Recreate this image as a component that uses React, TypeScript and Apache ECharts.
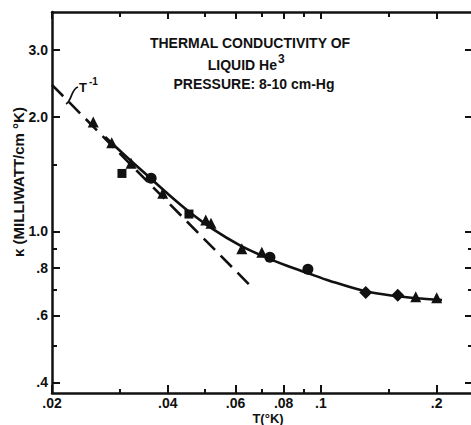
import React, { useEffect, useRef } from "react";
import * as echarts from "echarts";

// Axis ranges (real units, log-log plot)
const xMin = 0.02;
const xMax = 0.25;
const yMin = 0.375;
const yMax = 3.78;

// Tick values / labels
const xMajorTicks = [0.02, 0.04, 0.06, 0.08, 0.1, 0.2];
const xMajorLabels = [".02", ".04", ".06", ".08", ".1", ".2"];
const xMinorTicks = [0.03, 0.05, 0.07, 0.09, 0.15];
const yMajorTicks = [0.4, 0.6, 0.8, 1.0, 2.0, 3.0];
const yMajorLabels = [".4", ".6", ".8", "1.0", "2.0", "3.0"];
const yMinorTicksLeft = [0.5, 0.7, 0.9, 1.5];
const yMinorTicksRight = [0.5, 0.7, 0.9];

// Smooth fitted curve
const curveT = [0.0275, 0.0319, 0.036, 0.0398, 0.0451, 0.0524, 0.0616, 0.0707, 0.0816, 0.0926, 0.1056, 0.131, 0.1586, 0.1767, 0.2064];
const curveK = [1.771, 1.54, 1.381, 1.261, 1.133, 1.013, 0.918, 0.86, 0.811, 0.775, 0.74, 0.694, 0.674, 0.666, 0.659];

// T^-1 dashed reference line (end points)
const dashT = [0.02, 0.065];
const dashK = [2.43, 0.725];

// Data points by marker
const triT = [0.0256, 0.0286, 0.0321, 0.0388, 0.0502, 0.0518, 0.0623, 0.0702, 0.1764, 0.2];
const triK = [1.94, 1.71, 1.51, 1.26, 1.07, 1.05, 0.9, 0.88, 0.672, 0.668];
const sqT = [0.0304, 0.0454];
const sqK = [1.42, 1.11];
const circT = [0.0362, 0.0737, 0.0925];
const circK = [1.38, 0.854, 0.794];
const diaT = [0.1308, 0.1584];
const diaK = [0.69, 0.678];

const INK = "#111";
const FONT = '"Liberation Sans", Arial, sans-serif';

export default function App() {
  const ref = useRef<HTMLDivElement>(null);

  useEffect(() => {
    const chart = echarts.init(ref.current!, undefined, { renderer: "svg" });
    const L = Math.log10;
    const pts = (xs: number[], ys: number[]) => xs.map((x, i) => [L(x), L(ys[i])]);
    const lookup = (vals: number[], labels: string[]) => (v: number) => {
      let best = 0;
      for (let i = 1; i < vals.length; i++) {
        if (Math.abs(L(vals[i]) - v) < Math.abs(L(vals[best]) - v)) best = i;
      }
      return labels[best];
    };

    const labelStyle = {
      color: INK,
      fontFamily: FONT,
      fontWeight: "bold" as const,
      fontSize: 14,
    };

    const baseX = {
      type: "value" as const,
      min: L(xMin),
      max: L(xMax),
      splitLine: { show: false },
    };
    const baseY = {
      type: "value" as const,
      min: L(yMin),
      max: L(yMax),
      splitLine: { show: false },
    };
    const lineOn = { show: true, onZero: false, lineStyle: { color: INK, width: 2.5 } };
    const lineOff = { show: false, onZero: false };
    const tick = (vals: number[], len: number) => ({
      show: true,
      inside: true,
      length: len,
      customValues: vals.map(L),
      lineStyle: { color: INK, width: 2 },
    });
    const marker = { color: INK, opacity: 1 };

    const option: any = {
      animation: false,
      backgroundColor: "#fff",
      grid: {
        left: 52,
        top: 12,
        width: 422,
        height: 381,
        containLabel: false,
        outerBoundsMode: "none",
      },
      xAxis: [
        {
          ...baseX,
          position: "bottom",
          axisLine: lineOn,
          axisTick: tick(xMajorTicks, 8),
          axisLabel: {
            ...labelStyle,
            margin: 3,
            customValues: xMajorTicks.map(L),
            formatter: lookup(xMajorTicks, xMajorLabels),
          },
        },
        {
          ...baseX,
          position: "bottom",
          axisLine: lineOff,
          axisTick: tick(xMinorTicks, 4),
          axisLabel: { show: false },
        },
        {
          ...baseX,
          position: "top",
          axisLine: lineOn,
          axisTick: tick(xMajorTicks, 7),
          axisLabel: { show: false },
        },
        {
          ...baseX,
          position: "top",
          axisLine: lineOff,
          axisTick: tick(xMinorTicks, 5),
          axisLabel: { show: false },
        },
      ],
      yAxis: [
        {
          ...baseY,
          position: "left",
          axisLine: lineOn,
          axisTick: tick(yMajorTicks, 8),
          axisLabel: {
            ...labelStyle,
            margin: 4,
            customValues: yMajorTicks.map(L),
            formatter: lookup(yMajorTicks, yMajorLabels),
          },
        },
        {
          ...baseY,
          position: "left",
          axisLine: lineOff,
          axisTick: tick(yMinorTicksLeft, 5),
          axisLabel: { show: false },
        },
        {
          ...baseY,
          position: "right",
          axisLine: lineOn,
          axisTick: tick(yMajorTicks, 9),
          axisLabel: { show: false },
        },
        {
          ...baseY,
          position: "right",
          axisLine: lineOff,
          axisTick: tick(yMinorTicksRight, 6),
          axisLabel: { show: false },
        },
      ],
      series: [
        {
          type: "line",
          data: pts(curveT, curveK),
          smooth: 0.3,
          showSymbol: false,
          lineStyle: { color: INK, width: 2.6 },
          z: 2,
        },
        {
          type: "line",
          data: pts(dashT, dashK),
          showSymbol: false,
          lineStyle: { color: INK, width: 2.6, type: [16, 8] },
          z: 2,
        },
        {
          type: "scatter",
          data: pts(triT, triK),
          symbol: "triangle",
          symbolSize: [11, 11],
          itemStyle: marker,
          z: 3,
        },
        {
          type: "scatter",
          data: pts(sqT, sqK),
          symbol: "rect",
          symbolSize: 9,
          itemStyle: marker,
          z: 3,
        },
        {
          type: "scatter",
          data: pts(circT, circK),
          symbol: "circle",
          symbolSize: 11,
          itemStyle: marker,
          z: 3,
        },
        {
          type: "scatter",
          data: pts(diaT, diaK),
          symbol: "diamond",
          symbolSize: [13, 13],
          itemStyle: marker,
          z: 3,
        },
      ],
      graphic: [
        {
          type: "text",
          x: 250,
          y: 43,
          style: { text: "THERMAL CONDUCTIVITY OF", align: "center", verticalAlign: "middle", fill: INK, font: `bold 14px ${FONT}` },
        },
        {
          type: "text",
          x: 277,
          y: 65,
          style: { text: "LIQUID He", align: "right", verticalAlign: "middle", fill: INK, font: `bold 14px ${FONT}` },
        },
        {
          type: "text",
          x: 278,
          y: 59,
          style: { text: "3", align: "left", verticalAlign: "middle", fill: INK, font: `bold 12px ${FONT}` },
        },
        {
          type: "text",
          x: 254,
          y: 84,
          style: { text: "PRESSURE: 8-10 cm-Hg", align: "center", verticalAlign: "middle", fill: INK, font: `bold 14px ${FONT}` },
        },
        {
          type: "text",
          x: 83,
          y: 87,
          style: { text: "T", align: "center", verticalAlign: "middle", fill: INK, font: `bold 13px ${FONT}` },
        },
        {
          type: "text",
          x: 89,
          y: 81,
          style: { text: "-1", align: "left", verticalAlign: "middle", fill: INK, font: `bold 10px ${FONT}` },
        },
        {
          type: "bezierCurve",
          shape: { x1: 66, y1: 104, cpx1: 72, cpy1: 101, cpx2: 71, cpy2: 89, x2: 78, y2: 87 },
          style: { stroke: INK, lineWidth: 1.8, fill: null },
        },
        {
          type: "text",
          x: 18,
          y: 182,
          rotation: Math.PI / 2,
          style: { text: "κ (MILLIWATT/cm °K)", align: "center", verticalAlign: "middle", fill: INK, font: `bold 15px ${FONT}` },
        },
        {
          type: "text",
          x: 268,
          y: 418,
          style: { text: "T(°K)", align: "center", verticalAlign: "middle", fill: INK, font: `bold 13px ${FONT}` },
        },
      ],
    };

    chart.setOption(option);
    return () => chart.dispose();
  }, []);

  return (
    <div
      ref={ref}
      style={{ position: "fixed", left: 0, top: 0, width: 471, height: 425, background: "#fff" }}
    />
  );
}
